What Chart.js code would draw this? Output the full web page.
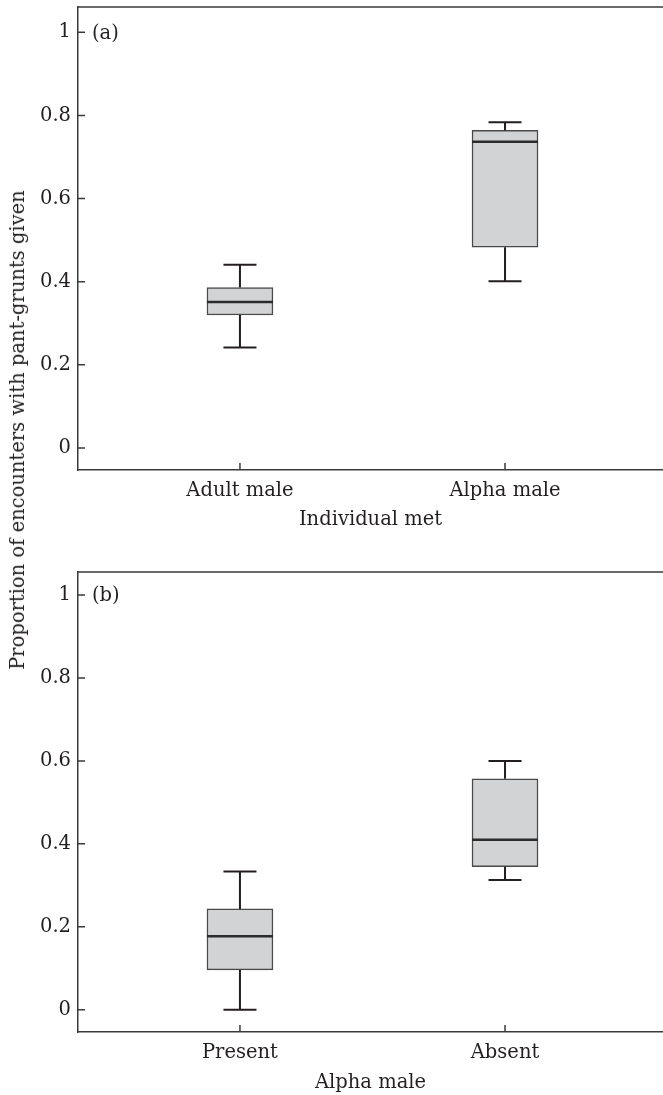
<!DOCTYPE html>
<html>
<head>
<meta charset="utf-8">
<script src="https://cdn.jsdelivr.net/npm/chart.js@4/dist/chart.umd.min.js"></script>
<style>
  html, body { margin: 0; padding: 0; background: #fff; }
  #wrap { position: relative; width: 663px; height: 1095px; background: #fff; overflow: hidden; }
  canvas { position: absolute; left: 0; }
  .lbl { position: absolute; font-family: 'DejaVu Serif', 'Liberation Serif', serif; font-size: 19.5px; line-height: 20px; color: #231f20; white-space: nowrap; }
  #ylabel { left: 18px; top: 430px; transform: translate(-50%, -50%) rotate(-90deg); }
</style>
</head>
<body>
<div id="wrap">
  <canvas id="chartA" width="663" height="540" style="top:0px"></canvas>
  <canvas id="chartB" width="663" height="535" style="top:560px"></canvas>
  <div class="lbl" id="ylabel">Proportion of encounters with pant-grunts given</div>
  <div class="lbl" style="left:92px; top:23px;">(a)</div>
  <div class="lbl" style="left:92px; top:585px;">(b)</div>
</div>
<script>
// ---- data ----
const categoryPositions = [1, 2];
const yTickValues = [0, 0.2, 0.4, 0.6, 0.8, 1];
const yTickLabels = ['0', '0.2', '0.4', '0.6', '0.8', '1'];

const panelACategories = ['Adult male', 'Alpha male'];
const panelAMin    = [0.242, 0.401];
const panelAQ1     = [0.320, 0.483];
const panelAMedian = [0.351, 0.737];
const panelAQ3     = [0.386, 0.764];
const panelAMax    = [0.441, 0.784];
const panelAXTitle = 'Individual met';

const panelBCategories = ['Present', 'Absent'];
const panelBMin    = [0.000, 0.313];
const panelBQ1     = [0.096, 0.345];
const panelBMedian = [0.177, 0.410];
const panelBQ3     = [0.243, 0.557];
const panelBMax    = [0.333, 0.600];
const panelBXTitle = 'Alpha male';

// ---- styling ----
const FONT_FAMILY = "'DejaVu Serif', 'Liberation Serif', serif";
const FONT_SIZE = 19.5;
const TEXT_COLOR = '#231f20';
const AXIS_COLOR = '#3a3a3a';
const BOX_HALF = 0.1245;  // half box width in x units
const CAP_HALF = 0.0623;  // half whisker cap width in x units

const inwardTicks = {
  id: 'inwardTicks',
  afterDraw(chart) {
    const { ctx, chartArea: a, scales } = chart;
    const x = scales.x, y = scales.y;
    ctx.save();
    ctx.strokeStyle = AXIS_COLOR;
    ctx.lineWidth = 1.5;
    ctx.beginPath();
    y.ticks.forEach(t => {
      const py = y.getPixelForValue(t.value);
      ctx.moveTo(a.left, py); ctx.lineTo(a.left + 7, py);
    });
    x.ticks.forEach(t => {
      const px = x.getPixelForValue(t.value);
      ctx.moveTo(px, a.bottom); ctx.lineTo(px, a.bottom - 7);
    });
    ctx.moveTo(a.left - 0.75, a.top); ctx.lineTo(a.right, a.top);
    ctx.stroke();
    ctx.restore();
  }
};

function makeChart(id, cats, mins, q1s, meds, q3s, maxs, xTitle, cfg) {
  const boxData = cats.map((c, i) => ({ x: categoryPositions[i], y: [q1s[i], q3s[i]] }));
  const whiskerData = [];
  const medianData = [];
  cats.forEach((c, i) => {
    const p = categoryPositions[i];
    whiskerData.push(
      { x: p, y: mins[i] }, { x: p, y: q1s[i] }, { x: p, y: null },
      { x: p, y: q3s[i] }, { x: p, y: maxs[i] }, { x: p, y: null },
      { x: p - CAP_HALF, y: maxs[i] }, { x: p + CAP_HALF, y: maxs[i] }, { x: p, y: null },
      { x: p - CAP_HALF, y: mins[i] }, { x: p + CAP_HALF, y: mins[i] }, { x: p, y: null }
    );
    medianData.push({ x: p - BOX_HALF, y: meds[i] }, { x: p + BOX_HALF, y: meds[i] }, { x: p, y: null });
  });

  const font = { family: FONT_FAMILY, size: FONT_SIZE };

  return new Chart(document.getElementById(id), {
    type: 'bar',
    data: {
      datasets: [
        {
          type: 'bar', data: boxData,
          backgroundColor: '#d2d3d5', borderColor: '#4a4a4a', borderWidth: 1.5,
          borderSkipped: false, barThickness: 66, order: 3
        },
        {
          type: 'line', data: whiskerData, borderColor: '#231f20', borderWidth: 2,
          pointRadius: 0, spanGaps: false, fill: false, tension: 0, order: 2
        },
        {
          type: 'line', data: medianData, borderColor: '#2b2b2b', borderWidth: 2.5,
          pointRadius: 0, spanGaps: false, fill: false, tension: 0, order: 1
        }
      ]
    },
    options: {
      responsive: false,
      animation: false,
      devicePixelRatio: 1,
      layout: { padding: { top: cfg.padTop, left: 0, right: 0, bottom: 0 } },
      plugins: { legend: { display: false }, tooltip: { enabled: false } },
      scales: {
        x: {
          type: 'linear', min: 0.389, max: 2.596, offset: false,
          afterBuildTicks: s => { s.ticks = categoryPositions.map(v => ({ value: v })); },
          afterFit: s => { s.height = cfg.xHeight; s.paddingLeft = 0; s.paddingRight = 0; },
          ticks: { callback: (v, i) => cats[i], font, color: TEXT_COLOR, padding: 9, maxRotation: 0, autoSkip: false },
          grid: { display: false, drawTicks: false, offset: false },
          border: { display: true, color: AXIS_COLOR, width: 1.5 },
          title: { display: true, text: xTitle, font, color: TEXT_COLOR, padding: { top: 0, bottom: cfg.titlePad } }
        },
        y: {
          type: 'linear', min: cfg.yMin, max: cfg.yMax,
          afterBuildTicks: s => { s.ticks = yTickValues.map(v => ({ value: v })); },
          afterFit: s => { s.width = 78; s.paddingTop = 0; s.paddingBottom = 0; },
          ticks: { callback: (v, i) => yTickLabels[i], font, color: TEXT_COLOR, padding: 7 },
          grid: { display: false, drawTicks: false },
          border: { display: true, color: AXIS_COLOR, width: 1.5 }
        }
      }
    },
    plugins: [inwardTicks]
  });
}

makeChart('chartA', panelACategories, panelAMin, panelAQ1, panelAMedian, panelAQ3, panelAMax, panelAXTitle,
  { padTop: 7, xHeight: 70, titlePad: 8, yMin: -0.053, yMax: 1.061 });
makeChart('chartB', panelBCategories, panelBMin, panelBQ1, panelBMedian, panelBQ3, panelBMax, panelBXTitle,
  { padTop: 12, xHeight: 63, titlePad: 0, yMin: -0.0537, yMax: 1.0554 });
</script>
</body>
</html>
